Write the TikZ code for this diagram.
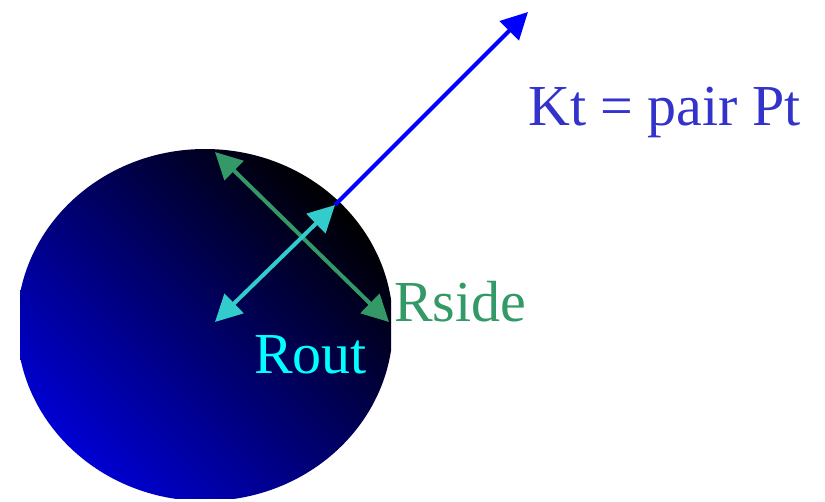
\documentclass[tikz,border=0pt]{standalone}
\usepackage{fontspec}
\setmainfont{Liberation Serif}
\usetikzlibrary{arrows.meta}
\definecolor{ktblue}{RGB}{51,51,204}
\definecolor{sidegreen}{RGB}{51,153,102}
\definecolor{outcyan}{RGB}{51,204,204}
\definecolor{outtext}{RGB}{0,255,255}
\definecolor{discblue}{RGB}{0,0,210}
\definecolor{discnavy}{RGB}{0,0,95}
\begin{document}
\begin{tikzpicture}[x=0.03cm,y=-0.03cm,
    tip/.style={Triangle[length=0.8cm,width=0.8cm]},
    vec/.style={line width=3.4pt,{Triangle[length=0.8cm,width=0.8cm]}-{Triangle[length=0.8cm,width=0.8cm]}},
    onevec/.style={line width=3.4pt,-{Triangle[length=0.8cm,width=0.8cm]}},
    lbl/.style={inner sep=0pt,anchor=base west,font=\fontsize{49.5}{58}\selectfont}]
  \useasboundingbox (0,0) rectangle (825,501);

  % Draw the disc
  \begin{scope}
    \clip (20,148) rectangle (391,498);
    \shade[top color=black,middle color=discnavy,bottom color=discblue,shading angle=-45]
      (205,325) ellipse (188 and 176);
  \end{scope}

  % Points on the disc
  \coordinate (top) at (215,152);
  \coordinate (side) at (389,322);
  \coordinate (ctr) at (215,322);
  \coordinate (rim) at (335,205);
  \coordinate (kt) at (528,12);

  % Draw the vectors
  \draw[vec,sidegreen] (top) -- (side);
  \draw[vec,outcyan] (ctr) -- (rim);
  \draw[onevec,blue] (rim) -- (kt);

  % Add labels
  \node[lbl,text=ktblue] (ktlbl) at (528,125) {Kt = pair Pt};
  \node[lbl,text=sidegreen] (sidelbl) at (394,321) {Rside};
  \node[lbl,text=outtext] (outlbl) at (254,373) {Rout};
\end{tikzpicture}
\end{document}
